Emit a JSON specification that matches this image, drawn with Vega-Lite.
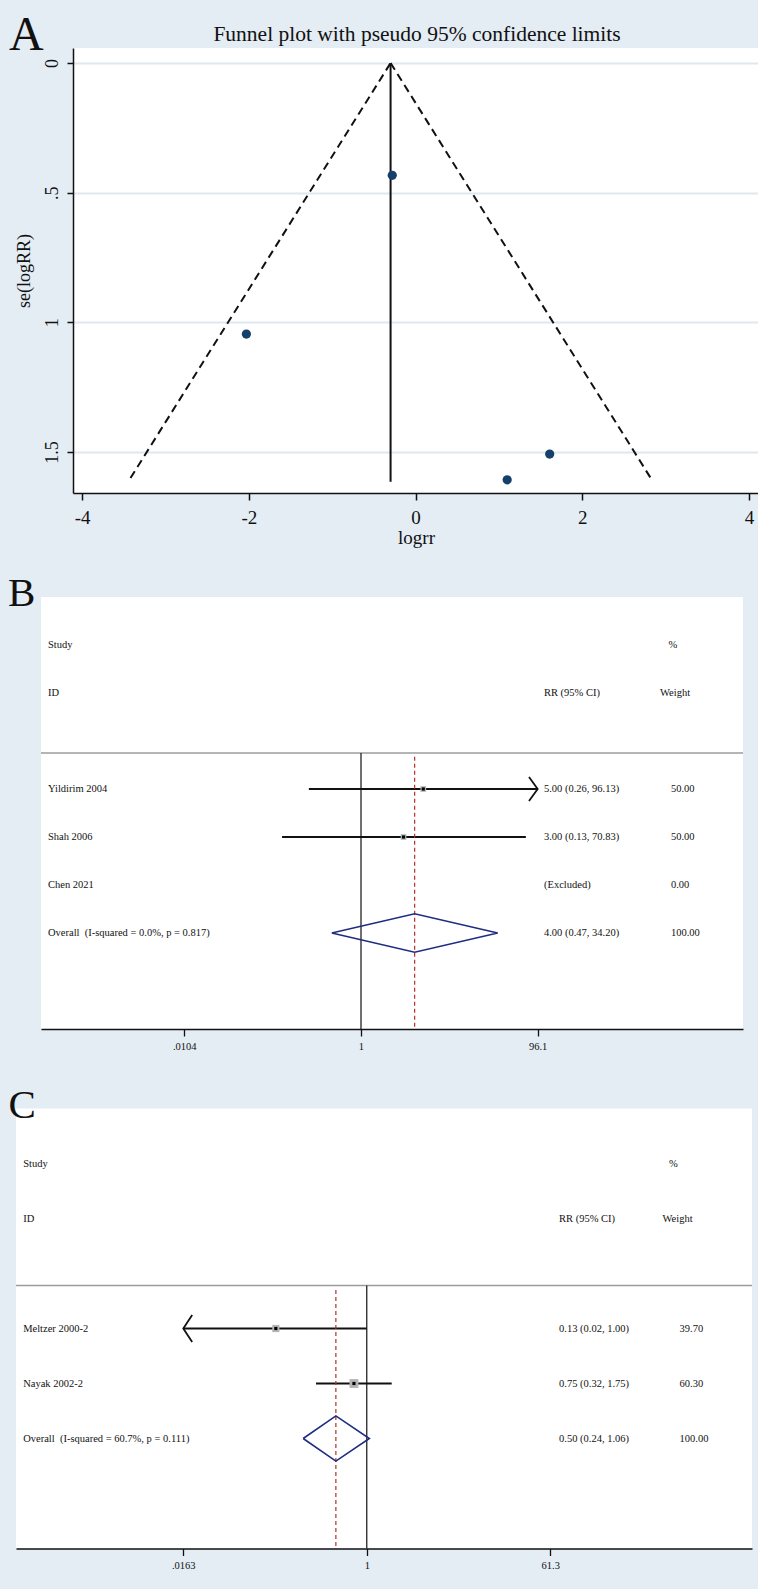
{
  "$schema": "https://vega.github.io/schema/vega-lite/v6.json",
  "background": "#e4ecf4",
  "padding": {"left": 7, "top": 12, "right": 0, "bottom": 19},
  "config": {
    "view": {"fill": "white", "stroke": null},
    "font": "Liberation Serif",
    "text": {"font": "Liberation Serif", "color": "#111"},
    "axis": {"labelFont": "Liberation Serif", "titleFont": "Liberation Serif", "titleFontWeight": "normal", "labelColor": "#111", "titleColor": "#111", "domainColor": "#111", "tickColor": "#111", "grid": false, "labelFlush": false, "labelOverlap": false}
  },
  "datasets": {
    "funnel": [
      {"study": "Nayak 2002-2", "logrr": -0.28, "se": 0.433},
      {"study": "Meltzer 2000-2", "logrr": -2.03, "se": 1.045},
      {"study": "Yildirim 2004", "logrr": 1.609, "se": 1.508},
      {"study": "Shah 2006", "logrr": 1.099, "se": 1.607}
    ],
    "funnelLines": [
      {"side": "lower", "logrr": -3.42, "se": 1.6},
      {"side": "lower", "logrr": -0.30, "se": 0},
      {"side": "upper", "logrr": -0.30, "se": 0},
      {"side": "upper", "logrr": 2.82, "se": 1.6}
    ],
    "pooledA": [{"logrr": -0.30, "se_from": 0, "se_to": 1.615}],
    "forestB": [
      {"study": "Yildirim 2004", "type": "study", "row": 0, "rr": 5, "lo": 0.26, "hi": 96.1, "ci": "5.00 (0.26, 96.13)", "w": "50.00", "wt": 50},
      {"study": "Shah 2006", "type": "study", "row": 1, "rr": 3, "lo": 0.13, "hi": 70.83, "ci": "3.00 (0.13, 70.83)", "w": "50.00", "wt": 50},
      {"study": "Chen 2021", "type": "excluded", "row": 2, "ci": "(Excluded)", "w": "0.00", "wt": 0},
      {"study": "Overall\u00a0\u00a0(I-squared = 0.0%, p = 0.817)", "type": "overall", "row": 3, "rr": 4, "lo": 0.47, "hi": 34.2, "ci": "4.00 (0.47, 34.20)", "w": "100.00", "wt": 100}
    ],
    "arrowB": [
      {"x": 76.8, "y": -0.25, "o": 1},
      {"x": 96.1, "y": 0, "o": 2},
      {"x": 76.8, "y": 0.25, "o": 3}
    ],
    "diamondB": [
      {"x": 0.47, "y": 3, "o": 1},
      {"x": 4, "y": 2.6, "o": 2},
      {"x": 34.2, "y": 3, "o": 3},
      {"x": 4, "y": 3.4, "o": 4},
      {"x": 0.47, "y": 3, "o": 5}
    ],
    "pooledB": [{"rr": 4}],
    "forestC": [
      {"study": "Meltzer 2000-2", "type": "study", "row": 0, "rr": 0.13, "lo": 0.0163, "hi": 1.0, "ci": "0.13 (0.02, 1.00)", "w": "39.70", "wt": 39.7},
      {"study": "Nayak 2002-2", "type": "study", "row": 1, "rr": 0.75, "lo": 0.32, "hi": 1.75, "ci": "0.75 (0.32, 1.75)", "w": "60.30", "wt": 60.3},
      {"study": "Overall\u00a0\u00a0(I-squared = 60.7%, p = 0.111)", "type": "overall", "row": 2, "rr": 0.5, "lo": 0.24, "hi": 1.06, "ci": "0.50 (0.24, 1.06)", "w": "100.00", "wt": 100}
    ],
    "arrowC": [
      {"x": 0.0199, "y": -0.245, "o": 1},
      {"x": 0.0163, "y": 0, "o": 2},
      {"x": 0.0199, "y": 0.245, "o": 3}
    ],
    "diamondC": [
      {"x": 0.24, "y": 2, "o": 1},
      {"x": 0.5, "y": 1.59, "o": 2},
      {"x": 1.06, "y": 2, "o": 3},
      {"x": 0.5, "y": 2.41, "o": 4},
      {"x": 0.24, "y": 2, "o": 5}
    ],
    "pooledC": [{"rr": 0.5}]
  },
  "spacing": 26,
  "vconcat": [
    {
      "spacing": 0,
      "hconcat": [
        {"width": 1, "height": 1, "data": {"values": []}, "mark": {"type": "point"}, "view": {"fill": null, "stroke": null}},
        {
          "width": 686, "height": 445,
          "layer": [
            {
              "data": {"name": "funnelLines"},
              "mark": {"type": "line", "color": "#111", "strokeWidth": 2, "strokeDash": [8, 5]},
              "encoding": {
                "x": {"field": "logrr", "type": "quantitative", "scale": {"domain": [-4.11, 4.12], "nice": false, "zero": false},
                  "axis": {"values": [-4, -2, 0, 2, 4], "labelExpr": "datum.value < 0 ? '-' + format(-datum.value, 'd') : format(datum.value, 'd')", "title": "logrr", "tickSize": 7, "tickWidth": 1.5, "domainWidth": 1.5, "labelPadding": 8, "labelFontSize": 19, "titleFontSize": 19, "titlePadding": 1}},
                "y": {"field": "se", "type": "quantitative", "scale": {"domain": [-0.058, 1.658], "nice": false, "zero": false, "reverse": true},
                  "axis": {"values": [0, 0.5, 1, 1.5], "labelExpr": "datum.value == 0 ? '0' : datum.value == 0.5 ? '.5' : datum.value == 1 ? '1' : '1.5'", "title": "se(logRR)", "labelAngle": -90, "labelAlign": "center", "labelBaseline": "bottom", "tickSize": 6, "tickWidth": 1.5, "domainWidth": 1.5, "labelPadding": 6, "labelFontSize": 18, "titleFontSize": 18, "titlePadding": 10, "grid": true, "gridColor": "#dfe8f0", "gridWidth": 1.8}},
                "detail": {"field": "side"}
              }
            },
            {
              "data": {"name": "pooledA"},
              "mark": {"type": "rule", "color": "#111", "strokeWidth": 2},
              "encoding": {"x": {"field": "logrr", "type": "quantitative"}, "y": {"field": "se_from", "type": "quantitative"}, "y2": {"field": "se_to"}}
            },
            {
              "data": {"name": "funnel"},
              "mark": {"type": "circle", "size": 85, "color": "#15406b", "opacity": 1},
              "encoding": {"x": {"field": "logrr", "type": "quantitative"}, "y": {"field": "se", "type": "quantitative"}}
            },
            {
              "data": {"values": [{"label": "A"}]},
              "mark": {"type": "text", "fontSize": 48, "align": "left", "baseline": "alphabetic"},
              "encoding": {"x": {"datum": -4.878}, "y": {"datum": -0.05}, "text": {"field": "label"}}
            },
            {
              "data": {"values": [{"label": "Funnel plot with pseudo 95% confidence limits"}]},
              "mark": {"type": "text", "fontSize": 21.5, "align": "center", "baseline": "alphabetic"},
              "encoding": {"x": {"datum": 0.017}, "y": {"datum": -0.085}, "text": {"field": "label"}}
            }
          ]
        }
      ]
    },
    {
      "spacing": 32.5,
      "vconcat": [
        {
          "spacing": 0,
          "hconcat": [
            {"width": 1, "height": 1, "data": {"values": []}, "mark": {"type": "point"}, "view": {"fill": null, "stroke": null}},
            {
              "width": 702, "height": 432,
              "layer": [
                {
                  "data": {"name": "forestB"},
                  "transform": [{"filter": "datum.type == 'study'"}],
                  "mark": {"type": "rule", "color": "#111", "strokeWidth": 1.8},
                  "encoding": {
                    "x": {"field": "lo", "type": "quantitative", "scale": {"type": "log", "domain": [0.00025636, 19362], "nice": false},
                      "axis": {"values": [0.0104, 1, 96.1], "labelExpr": "datum.value < 0.5 ? '.0104' : datum.value < 2 ? '1' : '96.1'", "title": null, "tickSize": 7, "tickWidth": 1.3, "domainWidth": 1.5, "labelPadding": 5, "labelFontSize": 10.5}},
                    "x2": {"field": "hi"},
                    "y": {"field": "row", "type": "quantitative", "scale": {"domain": [-4, 5], "nice": false, "zero": false, "reverse": true}, "axis": null}
                  }
                },
                {
                  "data": {"values": [{}]},
                  "mark": {"type": "rule", "color": "#9c9c9c", "strokeWidth": 1.5},
                  "encoding": {"y": {"datum": -0.75, "type": "quantitative", "axis": null}}
                },
                {
                  "data": {"values": [{}]},
                  "mark": {"type": "rule", "color": "#111", "strokeWidth": 1.2},
                  "encoding": {"x": {"datum": 1}, "y": {"datum": -0.75, "axis": null}, "y2": {"datum": 5}}
                },
                {
                  "data": {"name": "pooledB"},
                  "mark": {"type": "rule", "color": "#b22e2e", "strokeWidth": 1.2, "strokeDash": [4, 3]},
                  "encoding": {"x": {"field": "rr", "type": "quantitative"}, "y": {"datum": -0.67, "axis": null}, "y2": {"datum": 5}}
                },
                {
                  "data": {"name": "arrowB"},
                  "mark": {"type": "line", "color": "#111", "strokeWidth": 1.8},
                  "encoding": {"x": {"field": "x", "type": "quantitative"}, "y": {"field": "y", "type": "quantitative", "axis": null}, "order": {"field": "o"}}
                },
                {
                  "data": {"name": "forestB"},
                  "transform": [{"filter": "datum.type == 'study'"}],
                  "mark": {"type": "square", "color": "#b4b4b4", "opacity": 1, "size": 32},
                  "encoding": {"x": {"field": "rr", "type": "quantitative"}, "y": {"field": "row", "type": "quantitative", "axis": null}}
                },
                {
                  "data": {"name": "forestB"},
                  "transform": [{"filter": "datum.type == 'study'"}],
                  "mark": {"type": "square", "color": "#000", "opacity": 1, "size": 10},
                  "encoding": {"x": {"field": "rr", "type": "quantitative"}, "y": {"field": "row", "type": "quantitative", "axis": null}}
                },
                {
                  "data": {"name": "diamondB"},
                  "mark": {"type": "line", "color": "#1f2d80", "strokeWidth": 1.6},
                  "encoding": {"x": {"field": "x", "type": "quantitative"}, "y": {"field": "y", "type": "quantitative", "axis": null}, "order": {"field": "o"}}
                },
                {
                  "data": {"name": "forestB"},
                  "mark": {"type": "text", "fontSize": 10.5, "align": "left", "baseline": "middle"},
                  "encoding": {"x": {"datum": 0.000307}, "y": {"field": "row", "type": "quantitative", "axis": null}, "text": {"field": "study"}}
                },
                {
                  "data": {"name": "forestB"},
                  "mark": {"type": "text", "fontSize": 10.5, "align": "left", "baseline": "middle"},
                  "encoding": {"x": {"datum": 113.1}, "y": {"field": "row", "type": "quantitative", "axis": null}, "text": {"field": "ci"}}
                },
                {
                  "data": {"name": "forestB"},
                  "mark": {"type": "text", "fontSize": 10.5, "align": "left", "baseline": "middle"},
                  "encoding": {"x": {"datum": 3011}, "y": {"field": "row", "type": "quantitative", "axis": null}, "text": {"field": "w"}}
                },
                {
                  "data": {"values": [{"label": "Study"}]},
                  "mark": {"type": "text", "fontSize": 10.5, "align": "left", "baseline": "middle"},
                  "encoding": {"x": {"datum": 0.000307}, "y": {"datum": -3, "axis": null}, "text": {"field": "label"}}
                },
                {
                  "data": {"values": [{"label": "ID"}]},
                  "mark": {"type": "text", "fontSize": 10.5, "align": "left", "baseline": "middle"},
                  "encoding": {"x": {"datum": 0.000307}, "y": {"datum": -2, "axis": null}, "text": {"field": "label"}}
                },
                {
                  "data": {"values": [{"label": "RR (95% CI)"}]},
                  "mark": {"type": "text", "fontSize": 10.5, "align": "left", "baseline": "middle"},
                  "encoding": {"x": {"datum": 113.1}, "y": {"datum": -2, "axis": null}, "text": {"field": "label"}}
                },
                {
                  "data": {"values": [{"label": "Weight"}]},
                  "mark": {"type": "text", "fontSize": 10.5, "align": "left", "baseline": "middle"},
                  "encoding": {"x": {"datum": 2266}, "y": {"datum": -2, "axis": null}, "text": {"field": "label"}}
                },
                {
                  "data": {"values": [{"label": "%"}]},
                  "mark": {"type": "text", "fontSize": 10.5, "align": "left", "baseline": "middle"},
                  "encoding": {"x": {"datum": 2830}, "y": {"datum": -3, "axis": null}, "text": {"field": "label"}}
                },
                {
                  "data": {"values": [{"label": "B"}]},
                  "mark": {"type": "text", "fontSize": 41, "align": "left", "baseline": "alphabetic"},
                  "encoding": {"x": {"datum": 0.0001093}, "y": {"datum": -3.8125, "axis": null}, "text": {"field": "label"}}
                }
              ]
            }
          ]
        },
        {
          "spacing": 0,
          "hconcat": [
            {"width": 1, "height": 1, "data": {"values": []}, "mark": {"type": "point"}, "view": {"fill": null, "stroke": null}},
            {
              "width": 736, "height": 440,
              "layer": [
                {
                  "data": {"name": "forestC"},
                  "transform": [{"filter": "datum.type == 'study'"}],
                  "mark": {"type": "rule", "color": "#111", "strokeWidth": 1.8},
                  "encoding": {
                    "x": {"field": "lo", "type": "quantitative", "scale": {"type": "log", "domain": [0.00038203, 5670.4], "nice": false},
                      "axis": {"values": [0.0163, 1, 61.3], "labelExpr": "datum.value < 0.5 ? '.0163' : datum.value < 2 ? '1' : '61.3'", "title": null, "tickSize": 7, "tickWidth": 1.3, "domainWidth": 1.5, "labelPadding": 5, "labelFontSize": 10.5}},
                    "x2": {"field": "hi"},
                    "y": {"field": "row", "type": "quantitative", "scale": {"domain": [-4, 4], "nice": false, "zero": false, "reverse": true}, "axis": null}
                  }
                },
                {
                  "data": {"values": [{}]},
                  "mark": {"type": "rule", "color": "#9c9c9c", "strokeWidth": 1.5},
                  "encoding": {"y": {"datum": -0.78, "type": "quantitative", "axis": null}}
                },
                {
                  "data": {"values": [{}]},
                  "mark": {"type": "rule", "color": "#111", "strokeWidth": 1.2},
                  "encoding": {"x": {"datum": 1}, "y": {"datum": -0.78, "axis": null}, "y2": {"datum": 4}}
                },
                {
                  "data": {"name": "pooledC"},
                  "mark": {"type": "rule", "color": "#b22e2e", "strokeWidth": 1.2, "strokeDash": [4, 3]},
                  "encoding": {"x": {"field": "rr", "type": "quantitative"}, "y": {"datum": -0.7, "axis": null}, "y2": {"datum": 4}}
                },
                {
                  "data": {"name": "arrowC"},
                  "mark": {"type": "line", "color": "#111", "strokeWidth": 1.8},
                  "encoding": {"x": {"field": "x", "type": "quantitative"}, "y": {"field": "y", "type": "quantitative", "axis": null}, "order": {"field": "o"}}
                },
                {
                  "data": {"name": "forestC"},
                  "transform": [{"filter": "datum.type == 'study'"}],
                  "mark": {"type": "square", "color": "#b4b4b4", "opacity": 1},
                  "encoding": {"x": {"field": "rr", "type": "quantitative"}, "y": {"field": "row", "type": "quantitative", "axis": null},
                    "size": {"field": "wt", "type": "quantitative", "scale": {"domain": [0, 100], "range": [0, 130]}, "legend": null}}
                },
                {
                  "data": {"name": "forestC"},
                  "transform": [{"filter": "datum.type == 'study'"}],
                  "mark": {"type": "square", "color": "#000", "opacity": 1, "size": 10},
                  "encoding": {"x": {"field": "rr", "type": "quantitative"}, "y": {"field": "row", "type": "quantitative", "axis": null}}
                },
                {
                  "data": {"name": "diamondC"},
                  "mark": {"type": "line", "color": "#1f2d80", "strokeWidth": 1.6},
                  "encoding": {"x": {"field": "x", "type": "quantitative"}, "y": {"field": "y", "type": "quantitative", "axis": null}, "order": {"field": "o"}}
                },
                {
                  "data": {"name": "forestC"},
                  "mark": {"type": "text", "fontSize": 10.5, "align": "left", "baseline": "middle"},
                  "encoding": {"x": {"datum": 0.000449}, "y": {"field": "row", "type": "quantitative", "axis": null}, "text": {"field": "study"}}
                },
                {
                  "data": {"name": "forestC"},
                  "mark": {"type": "text", "fontSize": 10.5, "align": "left", "baseline": "middle"},
                  "encoding": {"x": {"datum": 74.7}, "y": {"field": "row", "type": "quantitative", "axis": null}, "text": {"field": "ci"}}
                },
                {
                  "data": {"name": "forestC"},
                  "mark": {"type": "text", "fontSize": 10.5, "align": "left", "baseline": "middle"},
                  "encoding": {"x": {"datum": 1116}, "y": {"field": "row", "type": "quantitative", "axis": null}, "text": {"field": "w"}}
                },
                {
                  "data": {"values": [{"label": "Study"}]},
                  "mark": {"type": "text", "fontSize": 10.5, "align": "left", "baseline": "middle"},
                  "encoding": {"x": {"datum": 0.000449}, "y": {"datum": -3, "axis": null}, "text": {"field": "label"}}
                },
                {
                  "data": {"values": [{"label": "ID"}]},
                  "mark": {"type": "text", "fontSize": 10.5, "align": "left", "baseline": "middle"},
                  "encoding": {"x": {"datum": 0.000449}, "y": {"datum": -2, "axis": null}, "text": {"field": "label"}}
                },
                {
                  "data": {"values": [{"label": "RR (95% CI)"}]},
                  "mark": {"type": "text", "fontSize": 10.5, "align": "left", "baseline": "middle"},
                  "encoding": {"x": {"datum": 74.7}, "y": {"datum": -2, "axis": null}, "text": {"field": "label"}}
                },
                {
                  "data": {"values": [{"label": "Weight"}]},
                  "mark": {"type": "text", "fontSize": 10.5, "align": "left", "baseline": "middle"},
                  "encoding": {"x": {"datum": 762}, "y": {"datum": -2, "axis": null}, "text": {"field": "label"}}
                },
                {
                  "data": {"values": [{"label": "%"}]},
                  "mark": {"type": "text", "fontSize": 10.5, "align": "left", "baseline": "middle"},
                  "encoding": {"x": {"datum": 883}, "y": {"datum": -3, "axis": null}, "text": {"field": "label"}}
                },
                {
                  "data": {"values": [{"label": "C"}]},
                  "mark": {"type": "text", "fontSize": 41, "align": "left", "baseline": "alphabetic"},
                  "encoding": {"x": {"datum": 0.000323}, "y": {"datum": -3.836, "axis": null}, "text": {"field": "label"}}
                }
              ]
            }
          ]
        }
      ]
    }
  ]
}
